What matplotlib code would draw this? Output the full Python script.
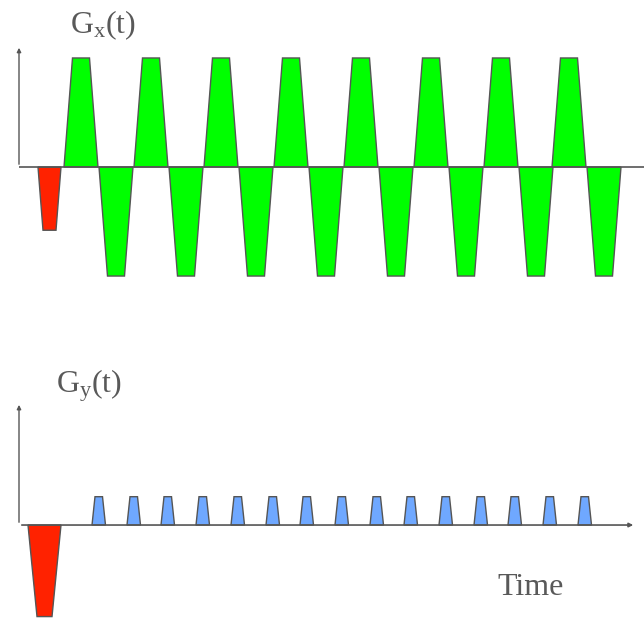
import matplotlib.pyplot as plt
from matplotlib.patches import Polygon

# Timing in arbitrary units, amplitudes relative to the readout gradient
gx_pos_starts = [4.5, 11.5, 18.5, 25.5, 32.5, 39.5, 46.5, 53.3]
gx_neg_starts = [8.0, 15.0, 22.0, 29.0, 36.0, 43.0, 50.0, 56.8]
gx_amp = 1.0
gx_width = 3.4
gx_ramp = 0.85
gx_pre = (1.9, 2.3, 0.5, -0.58)  # start, width, ramp, amplitude

gy_blip_starts = [7.3, 10.8, 14.2, 17.7, 21.2, 24.7, 28.1, 31.6,
                  35.1, 38.5, 42.0, 45.5, 48.9, 52.4, 55.9]
gy_amp = 0.26
gy_width = 1.35
gy_ramp = 0.3
gy_pre = (0.9, 3.3, 0.9, -0.84)

GREEN = '#00ff00'
RED = '#ff2200'
BLUE = '#6fa8ff'
EDGE = '#555555'
TXT = '#595959'

plt.rcParams['mathtext.fontset'] = 'custom'
plt.rcParams['mathtext.rm'] = 'Liberation Serif'
plt.rcParams['mathtext.it'] = 'Liberation Serif'


def trap(ax, start, width, ramp, amp, color):
    pts = [(start, 0), (start + ramp, amp), (start + width - ramp, amp),
           (start + width, 0)]
    ax.add_patch(Polygon(pts, closed=True, facecolor=color, edgecolor=EDGE,
                         lw=1.0, zorder=2))


W, H = 644, 618
fig = plt.figure(figsize=(W / 100, H / 100), dpi=100)

# top panel: Gx
ax1 = fig.add_axes([19 / W, (H - 290) / H, 625 / W, 245 / H])
ax1.set_xlim(0, 62.5)
ax1.set_ylim(-1.128, 1.119)
ax1.axis('off')
trap(ax1, *gx_pre, RED)
for s in gx_pos_starts:
    trap(ax1, s, gx_width, gx_ramp, gx_amp, GREEN)
for s in gx_neg_starts:
    trap(ax1, s, gx_width, gx_ramp, -gx_amp, GREEN)
ax1.plot([0, 62.5], [0, 0], color=EDGE, lw=1.2, zorder=3)
ax1.annotate('', xy=(0, 1.119), xytext=(0, 0),
             arrowprops=dict(arrowstyle='-|>', mutation_scale=6, color=EDGE, lw=1))

# bottom panel: Gy
ax2 = fig.add_axes([19 / W, 0, 625 / W, 223 / H])
ax2.set_xlim(0, 62.5)
ax2.set_ylim(-0.853, 1.193)
ax2.axis('off')
trap(ax2, *gy_pre, RED)
for s in gy_blip_starts:
    trap(ax2, s, gy_width, gy_ramp, gy_amp, BLUE)
ax2.annotate('', xy=(61.7, 0), xytext=(0, 0),
             arrowprops=dict(arrowstyle='-|>', mutation_scale=6, color=EDGE, lw=1.2))
ax2.annotate('', xy=(0, 1.128), xytext=(0, 0),
             arrowprops=dict(arrowstyle='-|>', mutation_scale=6, color=EDGE, lw=1))

fig.text(103 / W, 1 - 33 / H, r'$\mathrm{G_x(t)}$', fontsize=23, color=TXT,
         ha='center', va='baseline')
fig.text(89 / W, 1 - 393 / H, r'$\mathrm{G_y(t)}$', fontsize=23, color=TXT,
         ha='center', va='baseline')
fig.text(531 / W, 1 - 595 / H, 'Time', fontsize=23, color=TXT,
         family='Liberation Serif', ha='center', va='baseline')

fig.savefig('out.png', dpi=100)
